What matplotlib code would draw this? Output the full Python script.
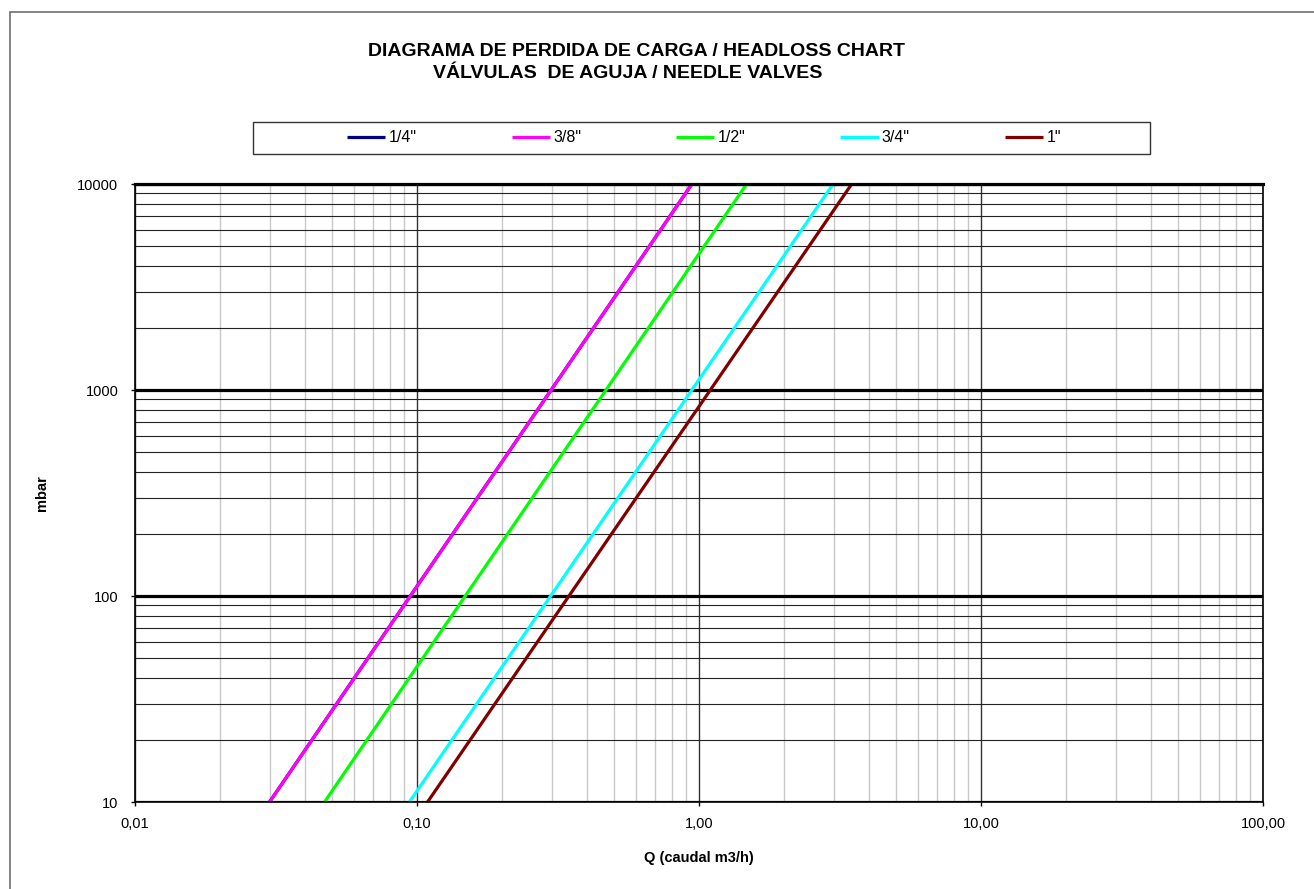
import matplotlib.pyplot as plt
import numpy as np
from matplotlib.patches import Rectangle
from matplotlib.ticker import FixedLocator, NullFormatter

plt.rcParams['font.family'] = ['Liberation Sans', 'DejaVu Sans']

# Valve sizes and two points (Q in m3/h, loss in mbar)
sizes = ['1/4"', '3/8"', '1/2"', '3/4"', '1"']
colors = ['#000080', '#FF00FF', '#00FF00', '#00FFFF', '#800000']
q_low = [0.030, 0.030, 0.047, 0.094, 0.109]
q_high = [0.944, 0.944, 1.476, 2.99, 3.48]
mbar_low = [10, 10, 10, 10, 10]
mbar_high = [10000, 10000, 10000, 10000, 10000]

x_ticks = [0.01, 0.1, 1, 10, 100]
x_ticklabels = ['0,01', '0,10', '1,00', '10,00', '100,00']
y_ticks = [10, 100, 1000, 10000]
y_ticklabels = ['10', '100', '1000', '10000']

W, H = 1314, 889
fig = plt.figure(figsize=(W / 100, H / 100), dpi=100)

# outer frame of the chart
fig.patches.append(Rectangle((10 / W, -0.02), 1.05, 1 - 12 / H + 0.02,
                             transform=fig.transFigure, fill=False,
                             edgecolor='#6e6e6e', lw=1.2))

ax = fig.add_axes([135 / W, 1 - 802 / H, 1128 / W, 618 / H])
ax.set_xscale('log')
ax.set_yscale('log')
ax.set_xlim(0.01, 100)
ax.set_ylim(10, 10000)

for s, c, x0, x1, y0, y1 in zip(sizes, colors, q_low, q_high, mbar_low, mbar_high):
    ax.plot([x0, x1], [y0, y1], color=c, lw=2.3, label=s, solid_capstyle='butt')

minor_x = [m * 10.0 ** e for e in range(-2, 2) for m in range(2, 10)]
minor_y = [m * 10.0 ** e for e in range(1, 4) for m in range(2, 10)]
ax.xaxis.set_major_locator(FixedLocator(x_ticks))
ax.xaxis.set_minor_locator(FixedLocator(minor_x))
ax.yaxis.set_major_locator(FixedLocator(y_ticks))
ax.yaxis.set_minor_locator(FixedLocator(minor_y))
ax.xaxis.set_minor_formatter(NullFormatter())
ax.yaxis.set_minor_formatter(NullFormatter())
ax.set_xticklabels(x_ticklabels)
ax.set_yticklabels(y_ticklabels)

ax.set_axisbelow(True)
ax.xaxis.grid(True, which='major', color='#333333', lw=1.0)
ax.xaxis.grid(True, which='minor', color='#c8c8c8', lw=1.0)
ax.yaxis.grid(True, which='major', color='black', lw=2.3)
ax.yaxis.grid(True, which='minor', color='#222222', lw=0.8)

ax.tick_params(which='minor', length=0)
ax.tick_params(axis='x', which='major', direction='out', length=3, width=1,
               pad=8, labelsize=10.5)
ax.tick_params(axis='y', which='major', direction='out', length=3, width=1,
               pad=9, labelsize=10.5)
for side in ['left', 'bottom', 'right']:
    ax.spines[side].set_linewidth(1.2)
    ax.spines[side].set_color('black')
ax.spines['top'].set_linewidth(2.3)

ax.set_xlabel('Q (caudal m3/h)', fontsize=10.5, fontweight='bold', labelpad=14)
ax.set_ylabel('mbar', fontsize=10.5, fontweight='bold', labelpad=20)

fig.text(637 / W, 1 - 51 / H, 'DIAGRAMA DE PERDIDA DE CARGA / HEADLOSS CHART',
         ha='center', va='center', fontsize=14, fontweight='bold')
fig.text(628 / W, 1 - 73 / H, 'VÁLVULAS  DE AGUJA / NEEDLE VALVES',
         ha='center', va='center', fontsize=14, fontweight='bold')

# legend box
fig.patches.append(Rectangle((253 / W, 1 - 154 / H), 897 / W, 32 / H,
                             transform=fig.transFigure, fill=False,
                             edgecolor='#333333', lw=1.0))
handles, labels = ax.get_legend_handles_labels()
fig.legend(handles, labels, loc='center', bbox_to_anchor=(704 / W, 1 - 138 / H),
           ncol=5, frameon=False, fontsize=11.5, handlelength=2.4,
           handletextpad=0.2, columnspacing=5.95)

fig.savefig('out.png', dpi=100)
